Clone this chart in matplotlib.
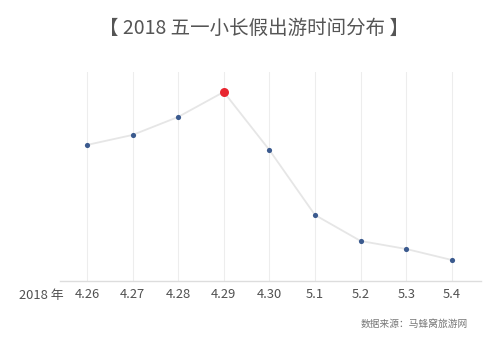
import matplotlib
matplotlib.use("Agg")
import matplotlib.pyplot as plt

plt.rcParams['font.family'] = ['Noto Sans CJK SC', 'DejaVu Sans']

dates = ["4.26", "4.27", "4.28", "4.29", "4.30", "5.1", "5.2", "5.3", "5.4"]
values = [136, 146, 164, 189, 131, 66, 40, 32, 21]
peak_index = 3

fig = plt.figure(figsize=(5, 3.41), dpi=100)
ax = fig.add_axes([0.12, 0.176, 0.842, 0.613])

x = list(range(len(dates)))
ax.plot(x, values, color='#e6e6e6', lw=1.3, zorder=2)
others = [i for i in x if i != peak_index]
ax.scatter(others, [values[i] for i in others], s=14, color='#3b5a8e', zorder=3, linewidths=0)
ax.scatter([peak_index], [values[peak_index]], s=42, color='#e8252f', zorder=4, linewidths=0)

ax.set_xlim(-0.59, 8.64)
ax.set_ylim(0, 209)
for xi in x:
    ax.axvline(xi, color='#ededed', lw=0.8, zorder=1)
for s in ['top', 'right', 'left']:
    ax.spines[s].set_visible(False)
ax.spines['bottom'].set_color('#dddddd')
ax.spines['bottom'].set_linewidth(1.0)
ax.set_yticks([])
ax.set_xticks(x)
ax.set_xticklabels(dates, fontsize=9.3, color='#505050')
ax.tick_params(axis='x', length=0, pad=5)

fig.text(0.083, (341-295)/341, "2018 年", fontsize=9.3, color='#505050',
         ha='center', va='center')
fig.text(0.508, (341-28)/341, "【 2018 五一小长假出游时间分布 】", fontsize=14, color='#555555',
         ha='center', va='center')
fig.text(0.935, (341-324)/341, "数据来源：马蜂窝旅游网", fontsize=7, color='#777777',
         ha='right', va='center')

fig.savefig("out.png", dpi=100)
